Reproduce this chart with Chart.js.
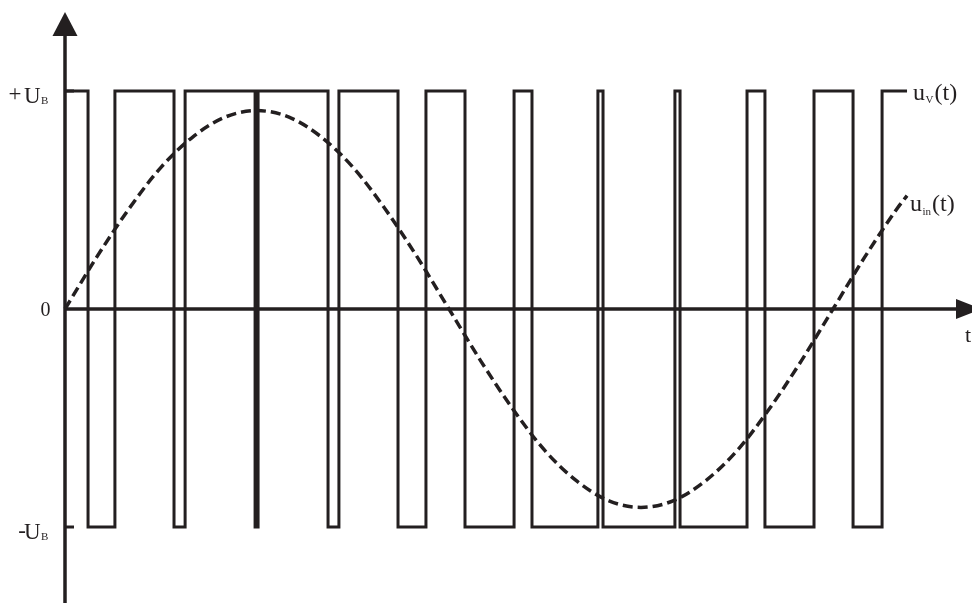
<!DOCTYPE html>
<html>
<head>
<meta charset="utf-8">
<script src="https://cdn.jsdelivr.net/npm/chart.js@4/dist/chart.umd.min.js"></script>
<style>
  html, body { margin: 0; padding: 0; background: #ffffff; }
  #wrap { width: 972px; height: 603px; }
</style>
</head>
<body>
<div id="wrap"><canvas id="c" width="972" height="603"></canvas></div>
<script>
// Phase (degrees of the reference sine) at which the PWM output switches
const pwmEdges = [0, 10.8, 23.4, 51.1, 56.3, 89.1, 90.5, 123.3, 128.4, 156.1, 169.2, 187.5,
                  210.5, 218.9, 249.8, 252.2, 285.9, 288.3, 319.7, 328.1, 351.1, 369.4, 383.0, 394.7];
// Output level after each edge, in units of U_B
const pwmLevels = [1, -1, 1, -1, 1, -1, 1, -1, 1, -1, 1, -1,
                   1, -1, 1, -1, 1, -1, 1, -1, 1, -1, 1, 1];

// Input signal u_in(t), sampled every 15 degrees (units of U_B)
const sinePhase = [0, 15, 30, 45, 60, 75, 90, 105, 120, 135, 150, 165, 180,
                   195, 210, 225, 240, 255, 270, 285, 300, 315, 330, 345, 360,
                   375, 390, 394.7];
const sineValues = [0, 0.24, 0.46, 0.65, 0.79, 0.88, 0.91, 0.88, 0.79, 0.65, 0.46, 0.24, 0,
                    -0.24, -0.46, -0.65, -0.79, -0.88, -0.91, -0.88, -0.79, -0.65, -0.46, -0.24, 0,
                    0.24, 0.46, 0.52];

// Level marks on the vertical axis
const levelTicks = [1, 0, -1];

const INK = '#231f20';
const SERIF = '"Liberation Serif", "DejaVu Serif", serif';

const pwmData = pwmEdges.map((t, i) => ({ x: t, y: pwmLevels[i] }));
const sineData = sinePhase.map((t, i) => ({ x: t, y: sineValues[i] }));

// Draws a base string followed by a lowered, smaller subscript
function textWithSub(ctx, x, y, main, sub, size, subSize, drop) {
  ctx.font = size + 'px ' + SERIF;
  ctx.textAlign = 'left';
  ctx.textBaseline = 'alphabetic';
  ctx.fillText(main, x, y);
  const w = ctx.measureText(main).width;
  ctx.font = subSize + 'px ' + SERIF;
  ctx.fillText(sub, x + w + 0.5, y + drop);
  return x + w + 0.5 + ctx.measureText(sub).width;
}

const axesPlugin = {
  id: 'arrowAxes',
  beforeDatasetsDraw(chart) {
    const { ctx, scales: { x, y } } = chart;
    const x0 = x.getPixelForValue(0);
    const y0 = y.getPixelForValue(0);
    ctx.save();
    ctx.strokeStyle = INK;
    ctx.fillStyle = INK;
    ctx.lineWidth = 3.5;
    ctx.lineCap = 'butt';

    // vertical axis with arrowhead
    ctx.beginPath();
    ctx.moveTo(x0, chart.height);
    ctx.lineTo(x0, 30);
    ctx.stroke();
    ctx.beginPath();
    ctx.moveTo(x0, 12);
    ctx.lineTo(x0 - 12.5, 36);
    ctx.lineTo(x0 + 12.5, 36);
    ctx.closePath();
    ctx.fill();

    // time axis with arrowhead
    ctx.beginPath();
    ctx.moveTo(x0, y0);
    ctx.lineTo(962, y0);
    ctx.stroke();
    ctx.beginPath();
    ctx.moveTo(982, y0);
    ctx.lineTo(956, y0 - 10);
    ctx.lineTo(956, y0 + 10);
    ctx.closePath();
    ctx.fill();

    // short marks at +U_B and -U_B
    ctx.lineWidth = 3;
    [levelTicks[0], levelTicks[2]].forEach(v => {
      const p = y.getPixelForValue(v);
      ctx.beginPath();
      ctx.moveTo(x0, p);
      ctx.lineTo(x0 + 9, p);
      ctx.stroke();
    });
    ctx.restore();
  },
  afterDatasetsDraw(chart) {
    const { ctx, scales: { x, y } } = chart;
    ctx.save();
    ctx.fillStyle = INK;

    const pTop = y.getPixelForValue(levelTicks[0]);
    const pZero = y.getPixelForValue(levelTicks[1]);
    const pBot = y.getPixelForValue(levelTicks[2]);

    // +U_B
    ctx.font = '23px ' + SERIF;
    ctx.textAlign = 'center';
    ctx.textBaseline = 'alphabetic';
    ctx.fillText('+', 15, pTop + 10);
    textWithSub(ctx, 24, pTop + 12, 'U', 'B', 23, 11, 1);

    // -U_B
    ctx.font = '23px ' + SERIF;
    ctx.textAlign = 'center';
    ctx.fillText('-', 22, pBot + 11);
    textWithSub(ctx, 24, pBot + 12, 'U', 'B', 23, 11, 1);

    // origin
    ctx.font = '20px ' + SERIF;
    ctx.textAlign = 'center';
    ctx.fillText('0', 45.5, pZero + 7);

    // time axis name
    ctx.textAlign = 'left';
    ctx.font = '22px ' + SERIF;
    ctx.fillText('t', 965, pZero + 33);

    // series names at the right end of each curve
    const lastPwm = pwmData[pwmData.length - 1];
    const lastSine = sineData[sineData.length - 1];
    const xs1 = x.getPixelForValue(lastPwm.x) + 6;
    let end = textWithSub(ctx, xs1, y.getPixelForValue(lastPwm.y) + 9, 'u', 'V', 24, 11, 3);
    ctx.font = '24px ' + SERIF;
    ctx.fillText('(t)', end + 1, y.getPixelForValue(lastPwm.y) + 9);

    const xs2 = x.getPixelForValue(lastSine.x) + 3;
    end = textWithSub(ctx, xs2, y.getPixelForValue(lastSine.y) + 15, 'u', 'in', 24, 11, 4);
    ctx.font = '24px ' + SERIF;
    ctx.fillText('(t)', end + 1, y.getPixelForValue(lastSine.y) + 15);
    ctx.restore();
  }
};

new Chart(document.getElementById('c'), {
  type: 'line',
  data: {
    datasets: [
      {
        label: 'u_V(t)',
        data: pwmData,
        stepped: true,
        borderColor: INK,
        borderWidth: 3,
        borderJoinStyle: 'miter',
        borderCapStyle: 'butt',
        pointRadius: 0,
        fill: false,
        clip: false
      },
      {
        label: 'u_in(t)',
        data: sineData,
        cubicInterpolationMode: 'monotone',
        borderColor: INK,
        borderWidth: 3.5,
        borderDash: [10, 5],
        borderCapStyle: 'butt',
        pointRadius: 0,
        fill: false,
        clip: false
      }
    ]
  },
  options: {
    responsive: false,
    animation: false,
    events: [],
    layout: { padding: 0 },
    plugins: {
      legend: { display: false },
      tooltip: { enabled: false }
    },
    scales: {
      x: { type: 'linear', display: false, min: -30.469, max: 425.156 },
      y: { type: 'linear', display: false, min: -1.3486, max: 1.4174 }
    }
  },
  plugins: [axesPlugin]
});
</script>
</body>
</html>
